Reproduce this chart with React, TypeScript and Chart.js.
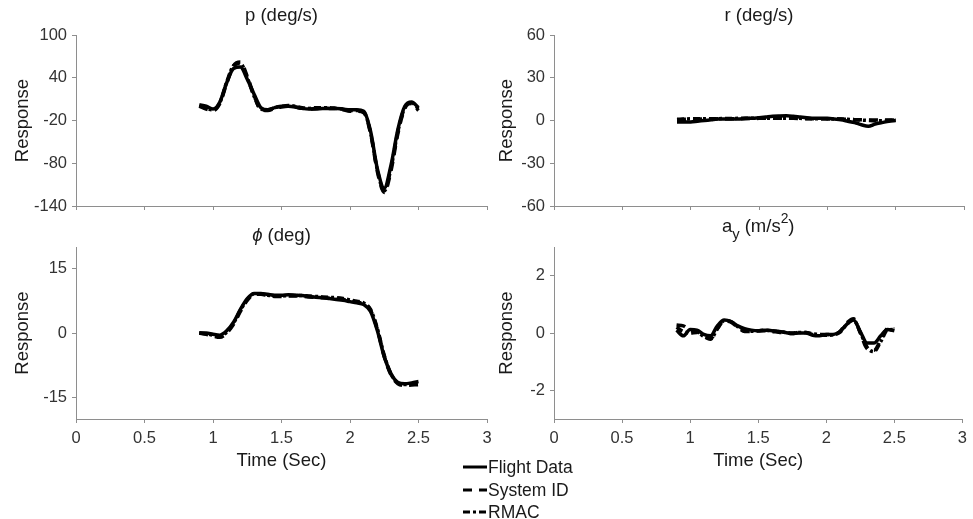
import React, { useEffect, useRef } from 'react';
import { Chart, registerables } from 'chart.js';
Chart.register(...registerables);

const FONT = '"Liberation Sans", Arial, Helvetica, sans-serif';
const AXIS = '#8e8e8e';
const TICKC = '#333333';
const TEXTC = '#1a1a1a';

const time = [0.9, 0.95, 1.0, 1.05, 1.1, 1.15, 1.2, 1.25, 1.3, 1.35, 1.4, 1.45, 1.5, 1.55, 1.6, 1.65, 1.7, 1.75, 1.8, 1.85, 1.9, 1.95, 2.0, 2.05, 2.1, 2.15, 2.2, 2.25, 2.3, 2.35, 2.4, 2.45, 2.5];
const xTicks = [0, 0.5, 1, 1.5, 2, 2.5, 3];

const pFlight = [2, 0, -4, 6, 33, 53, 55, 38, 17, -2, -5, -2, 0, 0, -1, -3, -4, -4, -3, -3, -3, -4, -5, -5, -7, -35, -88, -115, -82, -32, 0, 6, -2];
const pSysId = [0, -4, -6, 4, 32, 57, 62, 42, 15, -5, -6, -3, -1, 0, -1, -3, -4, -3, -2, -3, -3, -5, -7, -7, -9, -38, -92, -121, -90, -38, -3, 4, -6];
const pRmac = [1, -3, -5, 5, 34, 57, 60, 40, 14, -4, -5, -2, 0, 1, 0, -2, -3, -2, -2, -2, -3, -4, -6, -6, -8, -37, -90, -119, -86, -35, -2, 5, -4];
const pTicks = [-140, -80, -20, 40, 100];

const rFlight = [-1, -1, -1, -0.5, 0, 0.5, 1, 1, 1, 1, 1.5, 1.5, 2, 2.5, 3, 3.2, 3.3, 3, 2.5, 2, 1.5, 1.5, 1.5, 1, 0.5, -0.5, -1.5, -3, -4, -2.5, -1.5, -0.5, 0];
const rSysId = [0.5, 0.8, 1, 1, 1, 1, 1.2, 1.2, 1.3, 1.3, 1.3, 1.4, 1.5, 1.5, 1.5, 1.5, 1.5, 1.5, 1.4, 1.3, 1.2, 1.2, 1.1, 1, 1, 0.8, 0.6, 0.5, 0.4, 0.4, 0.3, 0.3, 0.3];
const rRmac = [0.8, 1, 1.2, 1.2, 1.2, 1.3, 1.3, 1.4, 1.4, 1.5, 1.5, 1.5, 1.6, 1.6, 1.6, 1.6, 1.6, 1.5, 1.5, 1.4, 1.3, 1.3, 1.2, 1.1, 1, 0.8, 0.6, 0.3, 0, -0.2, -0.2, 0, 0.2];
const rTicks = [-60, -30, 0, 30, 60];

const phiFlight = [0, 0, -0.3, -0.5, 0.5, 2.5, 5.5, 8, 9.2, 9.2, 9, 8.8, 8.8, 8.9, 8.8, 8.7, 8.5, 8.3, 8.2, 8, 7.8, 7.6, 7.3, 7, 6.6, 5, 0.5, -5.5, -9.5, -11.5, -11.8, -11.6, -11.3];
const phiSysId = [0, -0.3, -0.7, -1, 0, 2, 5, 7.6, 9, 9, 8.7, 8.5, 8.5, 8.6, 8.6, 8.5, 8.4, 8.3, 8.2, 8.1, 7.9, 7.8, 7.5, 7.2, 6.8, 5.3, 0.8, -5.5, -9.8, -11.8, -12.2, -12.1, -12];
const phiRmac = [0, -0.2, -0.5, -0.8, 0.2, 2.3, 5.3, 7.8, 9.1, 9.1, 8.8, 8.6, 8.6, 8.7, 8.7, 8.7, 8.6, 8.5, 8.4, 8.3, 8.2, 8, 7.7, 7.4, 7, 5.5, 1, -5.2, -9.6, -11.6, -12, -11.8, -11.6];
const phiTicks = [-15, 0, 15];

const ayFlight = [0.1, -0.1, 0.12, 0.1, -0.05, -0.1, 0.25, 0.45, 0.4, 0.25, 0.15, 0.1, 0.08, 0.1, 0.08, 0.05, 0.02, -0.02, 0, 0, -0.08, -0.1, -0.05, -0.05, 0.05, 0.3, 0.45, 0.05, -0.35, -0.35, -0.1, 0.12, 0.08];
const aySysId = [0.28, 0.25, 0.1, 0.05, -0.1, -0.2, 0.15, 0.42, 0.38, 0.2, 0.05, 0.05, 0.08, 0.08, 0.05, 0.03, 0, -0.02, 0.02, 0.02, -0.05, -0.05, -0.05, -0.05, 0.05, 0.35, 0.5, 0, -0.55, -0.6, -0.25, 0.15, 0.15];
const ayRmac = [0.2, 0.05, 0, 0.02, -0.12, -0.22, 0.15, 0.43, 0.4, 0.22, 0.08, 0.06, 0.08, 0.1, 0.08, 0.05, 0.02, 0, 0.02, 0.02, -0.03, -0.05, -0.08, -0.06, 0.02, 0.3, 0.45, 0.02, -0.5, -0.65, -0.3, 0.1, 0.12];
const ayTicks = [-2, 0, 2];

const seriesNames = ['Flight Data', 'System ID', 'RMAC'];
const dashes = [[], [9, 7], [7, 3, 3, 3]];

const titlePlugin = {
  id: 'subplotTitle',
  afterDraw(chart: any, _args: any, opts: any) {
    const parts = opts && opts.parts;
    if (!parts) return;
    const ctx = chart.ctx;
    ctx.save();
    const base = opts.size;
    let total = 0;
    const widths = parts.map((p: any) => {
      ctx.font = `${p.italic ? 'italic ' : ''}${base * (p.scale || 1)}px ${FONT}`;
      const w = ctx.measureText(p.text).width;
      total += w;
      return w;
    });
    let x = (chart.chartArea.left + chart.chartArea.right) / 2 - total / 2;
    ctx.fillStyle = TEXTC;
    ctx.textBaseline = 'middle';
    ctx.textAlign = 'left';
    parts.forEach((p: any, i: number) => {
      ctx.font = `${p.italic ? 'italic ' : ''}${base * (p.scale || 1)}px ${FONT}`;
      ctx.fillText(p.text, x, opts.y + (p.dy || 0));
      x += widths[i];
    });
    ctx.restore();
  },
};

function buildConfig(cfg: any) {
  const values = [cfg.flight, cfg.sysid, cfg.rmac];
  return {
    type: 'line',
    data: {
      datasets: values.map((arr: number[], i: number) => ({
        label: seriesNames[i],
        data: time.map((t, k) => ({ x: t, y: arr[k] })),
        borderColor: '#000000',
        borderWidth: 3.5,
        borderDash: dashes[i],
        pointRadius: 0,
        fill: false,
        cubicInterpolationMode: 'monotone',
      })),
    },
    options: {
      animation: false,
      responsive: false,
      maintainAspectRatio: false,
      layout: { padding: { top: cfg.padTop, right: cfg.padRight, left: 0, bottom: 0 } },
      plugins: {
        legend: { display: false },
        tooltip: { enabled: false },
        subplotTitle: { parts: cfg.title, y: cfg.titleY, size: 18.5 },
      },
      scales: {
        x: {
          type: 'linear',
          min: 0,
          max: 3,
          afterBuildTicks: (s: any) => { s.ticks = xTicks.map((v) => ({ value: v })); },
          afterFit: (s: any) => { s.height = cfg.xHeight; },
          grid: { drawOnChartArea: false, drawTicks: true, tickLength: 4, color: AXIS, lineWidth: 1 },
          border: { display: true, color: AXIS, width: 1 },
          ticks: {
            display: cfg.xLabels,
            padding: 6,
            autoSkip: false,
            maxRotation: 0,
            color: TICKC,
            font: { family: FONT, size: 16.5 },
            callback: (v: any) => String(v),
          },
          title: {
            display: cfg.xLabels,
            text: 'Time (Sec)',
            color: TEXTC,
            font: { family: FONT, size: 18.5 },
            padding: { top: 0, bottom: 2 },
          },
        },
        y: {
          type: 'linear',
          min: cfg.yMin,
          max: cfg.yMax,
          afterBuildTicks: (s: any) => { s.ticks = cfg.yTicks.map((v: number) => ({ value: v })); },
          afterFit: (s: any) => { s.width = cfg.yWidth; },
          grid: { drawOnChartArea: false, drawTicks: true, tickLength: 4, color: AXIS, lineWidth: 1 },
          border: { display: true, color: AXIS, width: 1 },
          ticks: {
            padding: 5,
            autoSkip: false,
            color: TICKC,
            font: { family: FONT, size: 16.5 },
            callback: (v: any) => String(v),
          },
          title: {
            display: true,
            text: 'Response',
            color: TEXTC,
            font: { family: FONT, size: 18.5 },
            padding: { top: 12, bottom: 0 },
          },
        },
      },
    },
    plugins: [titlePlugin],
  };
}

function Panel(props: any) {
  const ref = useRef<HTMLCanvasElement | null>(null);
  const { left, top, width, height, cfg } = props;
  useEffect(() => {
    const chart = new Chart(ref.current as HTMLCanvasElement, buildConfig(cfg) as any);
    return () => chart.destroy();
  }, []);
  return (
    <canvas
      ref={ref}
      width={width}
      height={height}
      style={{ position: 'absolute', left, top, width, height }}
    />
  );
}

const panels = [
  {
    left: 0, top: 0, width: 500, height: 222,
    cfg: {
      flight: pFlight, sysid: pSysId, rmac: pRmac, yMin: -140, yMax: 100, yTicks: pTicks,
      padTop: 35, padRight: 13, xHeight: 16, yWidth: 76, xLabels: false,
      title: [{ text: 'p (deg/s)' }], titleY: 15.5,
    },
  },
  {
    left: 484, top: 0, width: 489, height: 222,
    cfg: {
      flight: rFlight, sysid: rSysId, rmac: rRmac, yMin: -60, yMax: 60, yTicks: rTicks,
      padTop: 35, padRight: 9, xHeight: 16, yWidth: 70, xLabels: false,
      title: [{ text: 'r (deg/s)' }], titleY: 15.5,
    },
  },
  {
    left: 0, top: 210, width: 500, height: 264,
    cfg: {
      flight: phiFlight, sysid: phiSysId, rmac: phiRmac, yMin: -20, yMax: 20, yTicks: phiTicks,
      padTop: 37, padRight: 13, xHeight: 55, yWidth: 76, xLabels: true,
      title: [{ text: 'ϕ', italic: true }, { text: ' (deg)' }], titleY: 25.5,
    },
  },
  {
    left: 484, top: 210, width: 489, height: 264,
    cfg: {
      flight: ayFlight, sysid: aySysId, rmac: ayRmac, yMin: -3, yMax: 3, yTicks: ayTicks,
      padTop: 37, padRight: 9, xHeight: 55, yWidth: 70, xLabels: true,
      title: [
        { text: 'a' },
        { text: 'y', scale: 0.8, dy: 8 },
        { text: ' (m/s' },
        { text: '2', scale: 0.75, dy: -7 },
        { text: ')' },
      ],
      titleY: 16.5,
    },
  },
];

function LegendRow(props: any) {
  const { name, dash } = props;
  return (
    <div style={{ display: 'flex', alignItems: 'center', height: 22.5 }}>
      <svg width={24} height={22} style={{ display: 'block', marginRight: 1 }}>
        <line
          x1={0}
          y1={11}
          x2={24}
          y2={11}
          stroke="#000"
          strokeWidth={3}
          strokeDasharray={dash.length ? dash.join(' ') : undefined}
        />
      </svg>
      <span style={{ whiteSpace: 'nowrap' }}>{name}</span>
    </div>
  );
}

export default function App() {
  return (
    <div
      style={{
        position: 'fixed',
        left: 0,
        top: 0,
        width: 973,
        height: 519,
        background: '#ffffff',
        overflow: 'hidden',
      }}
    >
      {panels.map((p, i) => (
        <Panel key={i} {...p} />
      ))}
      <div
        style={{
          position: 'absolute',
          left: 463,
          top: 456,
          fontFamily: FONT,
          fontSize: 17.5,
          color: TEXTC,
          lineHeight: '22.5px',
        }}
      >
        {seriesNames.map((n, i) => (
          <LegendRow key={n} name={n} dash={dashes[i]} />
        ))}
      </div>
    </div>
  );
}
